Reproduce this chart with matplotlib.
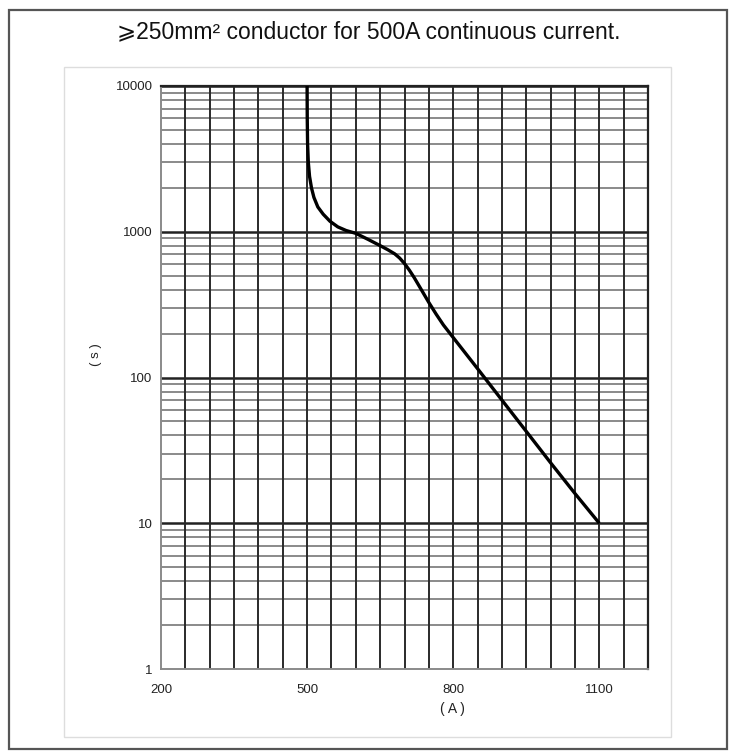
import matplotlib
matplotlib.use("Agg")
import matplotlib.pyplot as plt
from matplotlib.patches import Rectangle
import numpy as np

# Data
current_a = [500, 500.3, 501, 502.5, 505, 509, 514, 522, 533, 547, 563, 580, 600,
             625, 650, 665, 680, 690, 700, 710, 720, 735, 750, 765, 780, 800,
             850, 900, 950, 1000, 1050, 1100]
time_s = [10000, 6000, 4000, 3000, 2400, 2000, 1720, 1480, 1320, 1180, 1080, 1020, 975,
          887, 803, 755, 705, 660, 605, 545, 484, 398, 327, 272, 229, 188,
          115, 70, 42.7, 26, 16, 10]

x_ticks = [200, 500, 800, 1100]
y_ticks = [1, 10, 100, 1000, 10000]
y_tick_labels = ["1", "10", "100", "1000", "10000"]
x_grid = list(range(250, 1201, 50))
title = "⩾250mm² conductor for 500A continuous current."

fig = plt.figure(figsize=(7.33, 7.56), dpi=100)
fig.patch.set_facecolor("white")

# outer frame and inner box
fig.patches.append(Rectangle((9/733, 1-749/756), 718/733, 739/756, transform=fig.transFigure,
                             fill=False, edgecolor="#555555", lw=1.6, zorder=0))
fig.patches.append(Rectangle((64/733, 1-737/756), 607/733, 670/756, transform=fig.transFigure,
                             fill=False, edgecolor="#dddddd", lw=1.0, zorder=0))

ax = fig.add_axes([161/733, 1-669/756, 487/733, 583/756])
ax.set_yscale("log")
ax.set_xlim(200, 1200)
ax.set_ylim(1, 10000)

# grid lines
for d in range(0, 4):
    base = 10 ** d
    for m in range(2, 10):
        ax.axhline(base * m, color="#8a8a8a", lw=1.4, zorder=1)
for d in [10, 100, 1000, 10000]:
    ax.axhline(d, color="#222222", lw=1.8, zorder=2)
for xv in x_grid:
    ax.axvline(xv, color="#2a2a2a", lw=1.4, zorder=2)

ax.plot(current_a, time_s, color="black", lw=2.4, zorder=5,
        solid_capstyle="butt", solid_joinstyle="round")

for s in ["left", "bottom"]:
    ax.spines[s].set_color("#8a8a8a")
    ax.spines[s].set_linewidth(1.4)
for s in ["top", "right"]:
    ax.spines[s].set_color("#222222")
    ax.spines[s].set_linewidth(1.6)

ax.set_xticks(x_ticks)
ax.set_xticklabels([str(v) for v in x_ticks])
ax.set_yticks(y_ticks)
ax.set_yticklabels(y_tick_labels)
ax.yaxis.set_minor_locator(matplotlib.ticker.NullLocator())
ax.tick_params(axis="both", length=0, labelsize=9.5, colors="#222222",
               labelfontfamily="Liberation Sans")
ax.tick_params(axis="x", pad=11)
ax.tick_params(axis="y", pad=6)

fig.text(452/733, 1-709/756, "( A )", ha="center", va="center", fontsize=10,
         family="Liberation Sans", color="#222222")
fig.text(96/733, 1-355/756, "( s )", ha="center", va="center", fontsize=9.5,
         rotation=90, family="Liberation Sans", color="#222222")

fig.text(369/733, 1-32/756, title, ha="center", va="center", fontsize=16.5,
         family=["Liberation Sans", "DejaVu Sans"], color="#111111")

fig.savefig("out.png", dpi=100, facecolor="white")
